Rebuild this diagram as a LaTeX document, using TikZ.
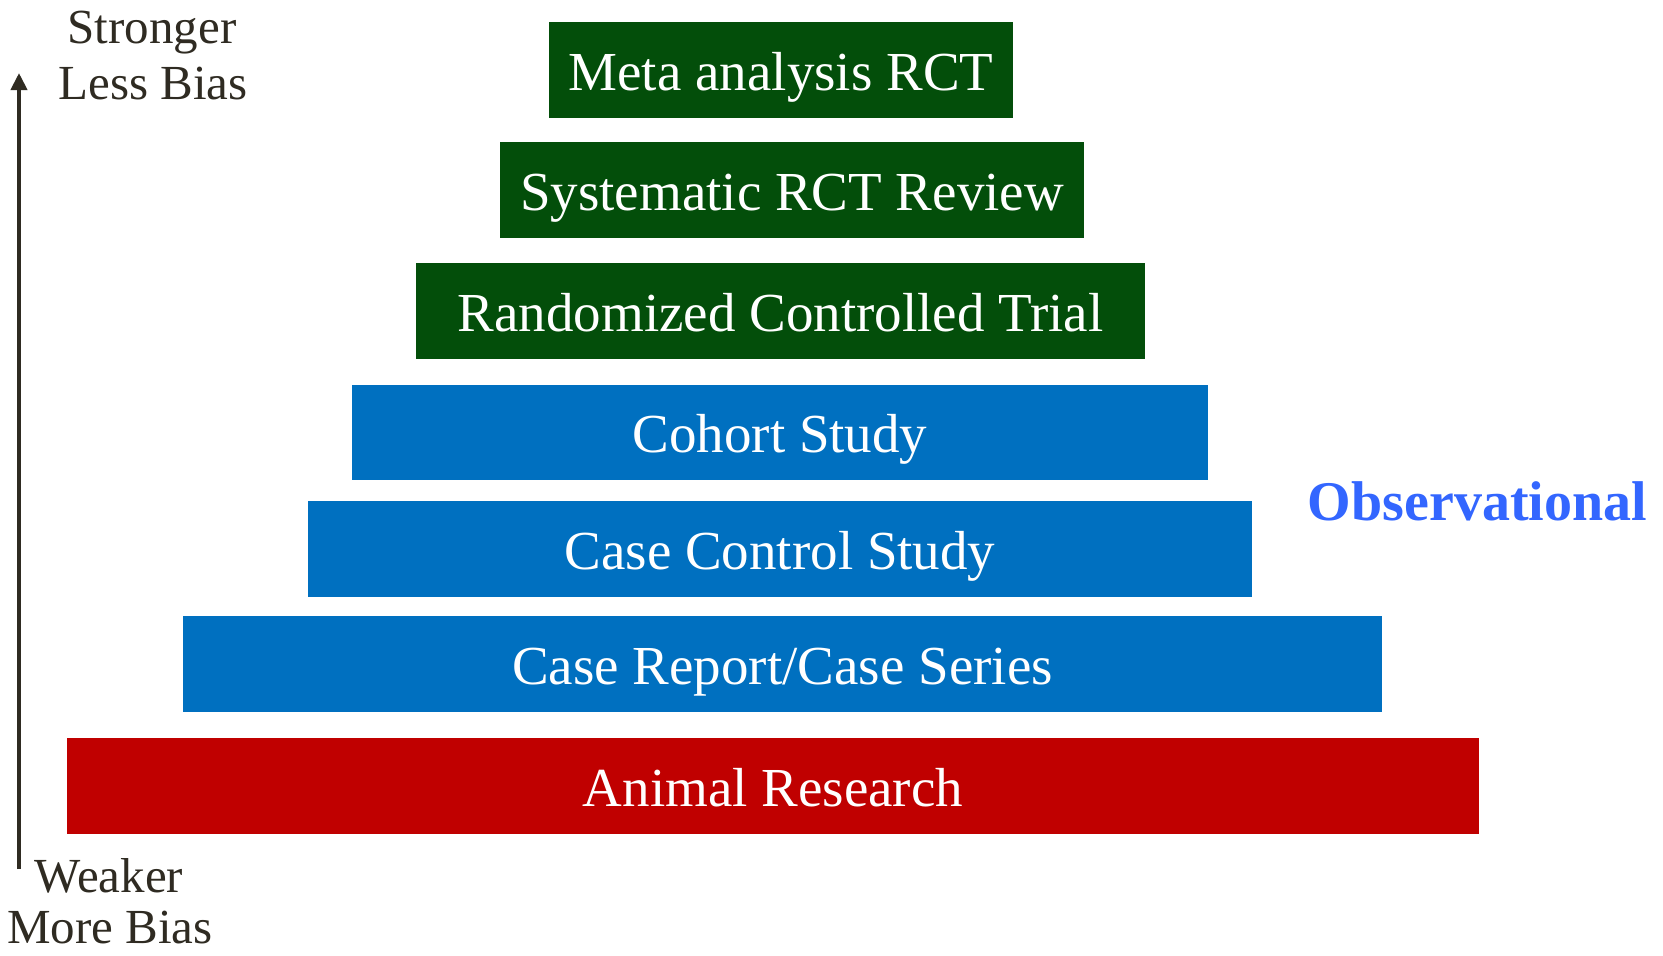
\documentclass[tikz,border=0pt]{standalone}
\usepackage{fontspec}
\setmainfont{Liberation Serif}
\usetikzlibrary{arrows.meta}
\definecolor{rctgreen}{HTML}{034E0A}
\definecolor{obsblue}{HTML}{0070C0}
\definecolor{animalred}{HTML}{C00000}
\definecolor{labelblue}{HTML}{3366FF}
\definecolor{darktext}{HTML}{2F2B22}
\pgfdeclareradialshading{vign}{\pgfpoint{0bp}{10bp}}{color(0bp)=(white); color(62bp)=(white); color(80bp)=(black!8)}
\begin{document}
\begin{tikzpicture}[x=1pt,y=-1pt,
  levelbox/.style={rectangle, inner sep=0pt, minimum height=96pt, text=white,
    font=\fontsize{55}{60}\selectfont, text height=40pt, text depth=0pt},
  sidelabel/.style={anchor=base, inner sep=0pt, text=darktext, font=\fontsize{49}{56}\selectfont}]
\useasboundingbox (0,0) rectangle (1663,956);
\shade[shading=vign] (0,0) rectangle (1663,956);

\node[levelbox, fill=rctgreen, minimum width=464pt] (meta) at (781,70) {Meta analysis RCT};
\node[levelbox, fill=rctgreen, minimum width=584pt] (sys) at (792,190) {Systematic RCT Review};
\node[levelbox, fill=rctgreen, minimum width=729pt] (rand) at (780.5,311) {Randomized Controlled Trial};
\node[levelbox, fill=obsblue, minimum width=856pt, minimum height=95pt] (cohort) at (780,432.5) {Cohort Study};
\node[levelbox, fill=obsblue, minimum width=944pt] (casectl) at (780,549) {Case Control Study};
\node[levelbox, fill=obsblue, minimum width=1199pt] (caserep) at (782.5,664) {Case Report/Case Series};
\node[levelbox, fill=animalred, minimum width=1412pt] (animal) at (773,786) {Animal Research};

\node[anchor=base, inner sep=0pt, text=labelblue, font=\fontsize{56}{62}\selectfont\bfseries] (obs) at (1477.5,520) {Observational};

\node[sidelabel] (stronger) at (152,43) {Stronger};
\node[sidelabel] (lessbias) at (153,99) {Less Bias};
\node[sidelabel] (weaker) at (109,892) {Weaker};
\node[sidelabel] (morebias) at (110,943) {More Bias};

\coordinate (abot) at (19,869);
\coordinate (atop) at (19,73);
\draw[darktext, line width=4pt, -{Triangle[width=16pt,length=17pt]}] (abot) -- (atop);
\end{tikzpicture}
\end{document}
